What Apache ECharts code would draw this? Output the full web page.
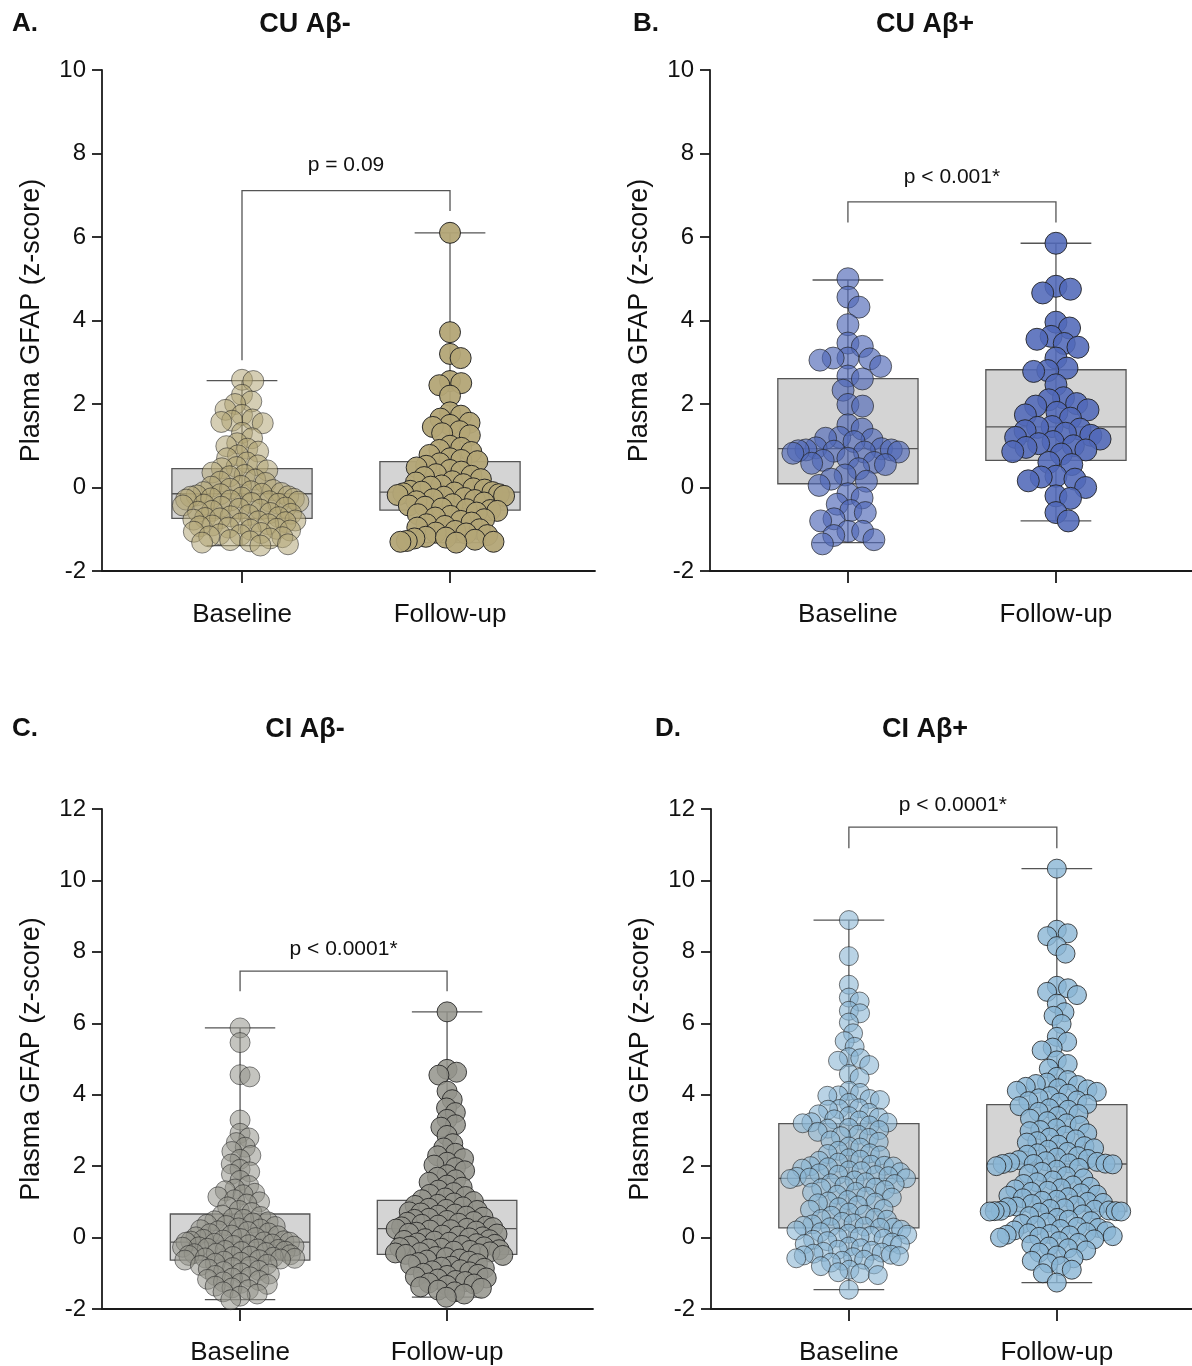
<!DOCTYPE html>
<html>
<head>
<meta charset="utf-8">
<title>Plasma GFAP</title>
<script src="https://cdn.jsdelivr.net/npm/echarts@6/dist/echarts.min.js"></script>
<style>
  html, body { margin: 0; padding: 0; background: #fff; }
  #chart { width: 1192px; height: 1366px; }
</style>
</head>
<body>
<div id="chart"></div>
<script>
// categories / labels
const categories = ['Baseline', 'Follow-up'];
const panelTitles = ['CU Aβ-', 'CU Aβ+', 'CI Aβ-', 'CI Aβ+'];
const panelLetters = ['A.', 'B.', 'C.', 'D.'];
const pTexts = ['p = 0.09', 'p < 0.001*', 'p < 0.0001*', 'p < 0.0001*'];

// box stats: [min, q1, median, q3, max]
const aBaseBox = [-1.39, -0.74, -0.15, 0.45, 2.56];
const aFollowBox = [-1.32, -0.54, -0.11, 0.62, 6.1];
const bBaseBox = [-1.32, 0.09, 0.93, 2.61, 4.97];
const bFollowBox = [-0.8, 0.65, 1.45, 2.82, 5.85];
const cBaseBox = [-1.74, -0.63, -0.13, 0.66, 5.87];
const cFollowBox = [-1.67, -0.47, 0.25, 1.04, 6.32];
const dBaseBox = [-1.46, 0.27, 1.66, 3.19, 8.89];
const dFollowBox = [-1.26, 0.73, 2.06, 3.72, 10.33];

// significance brackets: [left leg end, top, right leg end, label y]
const aBracket = [3.05, 7.11, 6.62, 7.71];
const bBracket = [6.35, 6.84, 6.35, 7.43];
const cBracket = [6.9, 7.46, 6.9, 8.08];
const dBracket = [10.9, 11.49, 10.9, 12.1];

// individual z-scores
const aBase = [2.58, 2.55, 2.22, 2.06, 2.0, 1.86, 1.74, 1.63, 1.6, 1.57, 1.54, 1.31, 1.18, 1.06, 0.99, 0.93, 0.86, 0.77, 0.7, 0.6, 0.53, 0.49, 0.46,
  0.41, 0.36, 0.3, 0.27, 0.19, 0.14, 0.11, 0.04, 0.02, -0.03, -0.06, -0.09, -0.11, -0.13, -0.15, -0.16, -0.19, -0.21, -0.22, -0.24, -0.26, -0.27,
  -0.29, -0.31, -0.33, -0.34, -0.37, -0.39, -0.41, -0.43, -0.46, -0.48, -0.51, -0.53, -0.56, -0.58, -0.61, -0.63, -0.66, -0.69, -0.71, -0.73, -0.74,
  -0.77, -0.79, -0.81, -0.83, -0.86, -0.88, -0.91, -0.93, -0.96, -0.99, -1.01, -1.03, -1.06, -1.09, -1.12, -1.14, -1.17, -1.19, -1.22, -1.26,
  -1.29, -1.32, -1.36, -1.39];
const aFollow = [6.1, 3.72, 3.2, 3.1, 2.55, 2.5, 2.45, 2.2, 1.8, 1.72, 1.65, 1.55, 1.5, 1.45, 1.35, 1.3, 1.25, 1.0, 0.95, 0.9, 0.85, 0.78, 0.7, 0.66, 0.63,
  0.58, 0.52, 0.48, 0.42, 0.38, 0.32, 0.28, 0.25, 0.2, 0.15, 0.12, 0.08, 0.05, 0.02, -0.02, -0.05, -0.08, -0.1, -0.11, -0.12, -0.14, -0.16, -0.18, -0.2, -0.22,
  -0.25, -0.28, -0.3, -0.33, -0.36, -0.4, -0.43, -0.46, -0.5, -0.52, -0.54, -0.56, -0.6, -0.64, -0.68, -0.72, -0.76, -0.8, -0.84, -0.88, -0.92, -0.96,
  -1.0, -1.04, -1.08, -1.1, -1.14, -1.18, -1.2, -1.22, -1.25, -1.28, -1.3, -1.3, -1.32];
const bBase = [5.0, 4.56, 4.32, 3.9, 3.46, 3.38, 3.1, 3.1, 3.08, 3.05, 2.9, 2.67, 2.6, 2.33, 1.99, 1.95, 1.5, 1.4, 1.2, 1.18, 1.15, 1.1, 0.95, 0.93,
  0.9, 0.9, 0.88, 0.87, 0.85, 0.85, 0.82, 0.7, 0.65, 0.6, 0.58, 0.55, 0.45, 0.3, 0.2, 0.15, 0.05, -0.15, -0.25, -0.4, -0.55, -0.6, -0.75, -0.8,
  -1.05, -1.05, -1.15, -1.25, -1.35];
const bFollow = [5.85, 4.82, 4.75, 4.66, 3.96, 3.82, 3.62, 3.55, 3.45, 3.36, 3.1, 2.86, 2.8, 2.78, 2.46, 2.15, 2.1, 2.01, 1.95, 1.86, 1.8, 1.74, 1.66,
  1.46, 1.44, 1.4, 1.36, 1.3, 1.25, 1.2, 1.16, 1.1, 1.05, 1.0, 0.96, 0.9, 0.86, 0.8, 0.6, 0.55, 0.27, 0.25, 0.2, 0.16, 0.0, -0.2, -0.26, -0.6, -0.8];
const cBase = [5.87, 5.46, 4.56, 4.5, 3.29, 2.92, 2.79, 2.66, 2.53, 2.41, 2.3, 2.19, 2.06, 1.91, 1.84, 1.77, 1.6, 1.46, 1.36, 1.31, 1.24, 1.2, 1.14,
  1.06, 1.0, 0.94, 0.86, 0.76, 0.7, 0.63, 0.59, 0.54, 0.51, 0.47, 0.44, 0.41, 0.37, 0.34, 0.31, 0.27, 0.24, 0.22, 0.19, 0.17, 0.13, 0.11, 0.07,
  0.05, 0.02, 0.0, -0.03, -0.05, -0.07, -0.09, -0.1, -0.12, -0.13, -0.13, -0.16, -0.18, -0.2, -0.22, -0.24, -0.26, -0.27, -0.3, -0.32, -0.33,
  -0.36, -0.38, -0.39, -0.42, -0.44, -0.45, -0.48, -0.5, -0.52, -0.53, -0.55, -0.57, -0.58, -0.6, -0.62, -0.63, -0.66, -0.69, -0.72, -0.75,
  -0.78, -0.81, -0.84, -0.88, -0.92, -0.95, -0.99, -1.02, -1.06, -1.1, -1.13, -1.17, -1.2, -1.24, -1.28, -1.31, -1.36, -1.41, -1.46, -1.52,
  -1.58, -1.64, -1.74];
const cFollow = [6.32, 4.71, 4.63, 4.55, 4.1, 3.86, 3.63, 3.5, 3.31, 3.16, 3.09, 2.86, 2.63, 2.51, 2.36, 2.29, 2.21, 2.11, 2.03, 1.96, 1.87, 1.76,
  1.69, 1.62, 1.55, 1.47, 1.41, 1.33, 1.26, 1.21, 1.15, 1.11, 1.06, 1.01, 0.97, 0.93, 0.9, 0.86, 0.82, 0.79, 0.76, 0.72, 0.69, 0.66, 0.63, 0.6,
  0.57, 0.54, 0.51, 0.48, 0.45, 0.43, 0.4, 0.37, 0.35, 0.32, 0.3, 0.28, 0.26, 0.24, 0.22, 0.21, 0.18, 0.15, 0.12, 0.1, 0.07, 0.04, 0.02, -0.01,
  -0.03, -0.06, -0.08, -0.1, -0.13, -0.15, -0.17, -0.19, -0.22, -0.24, -0.26, -0.28, -0.3, -0.32, -0.34, -0.36, -0.38, -0.4, -0.42, -0.43,
  -0.45, -0.47, -0.5, -0.53, -0.56, -0.6, -0.63, -0.66, -0.7, -0.73, -0.76, -0.8, -0.83, -0.86, -0.9, -0.93, -0.96, -1.0, -1.03, -1.06, -1.1,
  -1.13, -1.16, -1.2, -1.23, -1.27, -1.3, -1.34, -1.38, -1.42, -1.47, -1.52, -1.58, -1.67];
const dBase = [8.89, 7.88, 7.08, 6.72, 6.61, 6.35, 6.28, 6.02, 5.72, 5.5, 5.34, 5.05, 5.02, 4.95, 4.83, 4.58, 4.47, 4.11, 4.05, 3.98, 3.97, 3.88,
  3.85, 3.77, 3.62, 3.6, 3.58, 3.49, 3.45, 3.4, 3.36, 3.31, 3.28, 3.23, 3.22, 3.2,
  3.14, 3.07, 3.05, 3.01, 2.96, 2.88, 2.84, 2.79, 2.72, 2.68, 2.55, 2.52, 2.43, 2.36, 2.34, 2.3, 2.22, 2.18, 2.15, 2.1, 2.04, 2.01, 2.0, 1.99,
  1.97, 1.93, 1.88, 1.86, 1.83, 1.8, 1.76, 1.75, 1.72, 1.7, 1.68, 1.66,
  1.64, 1.6, 1.55, 1.52, 1.5, 1.45, 1.4, 1.38, 1.33, 1.28, 1.26, 1.2, 1.15, 1.12, 1.05, 1.01, 0.98, 0.96, 0.9, 0.85, 0.8, 0.78, 0.7, 0.64, 0.61,
  0.55, 0.52, 0.5, 0.44, 0.4, 0.37, 0.33, 0.31, 0.29, 0.28, 0.27,
  0.22, 0.2, 0.15, 0.11, 0.08, 0.05, 0.02, 0.0, -0.03, -0.06, -0.1, -0.14, -0.18, -0.2, -0.25, -0.3, -0.34, -0.37, -0.4, -0.42, -0.45, -0.48,
  -0.5, -0.52, -0.55, -0.58, -0.62, -0.65, -0.7, -0.75, -0.8, -0.9, -0.97, -1.0, -1.05, -1.46];
const dFollow = [10.33, 8.62, 8.52, 8.44, 8.16, 7.95, 7.05, 6.98, 6.88, 6.79, 6.55, 6.31, 6.21, 5.98, 5.62, 5.48, 5.32, 5.24, 4.96, 4.86, 4.73,
  4.5, 4.41, 4.34, 4.3, 4.27, 4.22, 4.18, 4.15, 4.11, 4.08, 4.03, 3.96, 3.9, 3.84, 3.82, 3.78, 3.74,
  3.68, 3.62, 3.58, 3.52, 3.46, 3.4, 3.33, 3.26, 3.2, 3.14, 3.06, 3.01, 2.98, 2.92, 2.86, 2.8, 2.75, 2.7, 2.66, 2.6, 2.56, 2.5, 2.46, 2.4, 2.36,
  2.32, 2.28, 2.24, 2.2, 2.17, 2.14, 2.12, 2.1, 2.08, 2.07, 2.06, 2.06, 2.05,
  2.0, 1.95, 1.9, 1.84, 1.78, 1.72, 1.66, 1.6, 1.55, 1.5, 1.46, 1.42, 1.38, 1.35, 1.31, 1.28, 1.24, 1.2, 1.17, 1.13, 1.1, 1.06, 1.03, 1.0, 0.97,
  0.94, 0.9, 0.87, 0.85, 0.82, 0.8, 0.78, 0.76, 0.75, 0.74, 0.74, 0.73, 0.73,
  0.7, 0.65, 0.6, 0.55, 0.5, 0.46, 0.42, 0.38, 0.34, 0.3, 0.27, 0.24, 0.2, 0.18, 0.15, 0.12, 0.1, 0.08, 0.06, 0.04, 0.02, 0.0, -0.05, -0.1,
  -0.15, -0.2, -0.25, -0.3, -0.36, -0.42, -0.5, -0.58, -0.65, -0.72, -0.8, -0.9, -1.0, -1.26];

const FONT = 'Liberation Sans, Arial, Helvetica, sans-serif';

// layout for the four panels
const panels = [
  { grid: { left: 102, top: 70, width: 493, height: 501 }, xMin: 0.327, xMax: 2.697, yMin: -2, yMax: 10,
    base: aBase, follow: aFollow, baseBox: aBaseBox, followBox: aFollowBox, bracket: aBracket,
    color: '#b3a576', alpha: [0.55, 0.95], size: 21, gap: 11.5, spread: 70 },
  { grid: { left: 710, top: 70, width: 482, height: 501 }, xMin: 0.337, xMax: 2.654, yMin: -2, yMax: 10,
    base: bBase, follow: bFollow, baseBox: bBaseBox, followBox: bFollowBox, bracket: bBracket,
    color: '#5169b8', alpha: [0.66, 0.88], size: 22, gap: 15, spread: 66 },
  { grid: { left: 102, top: 809, width: 491, height: 500 }, xMin: 0.333, xMax: 2.705, yMin: -2, yMax: 12,
    base: cBase, follow: cFollow, baseBox: cBaseBox, followBox: cFollowBox, bracket: cBracket,
    color: '#93938b', alpha: [0.55, 0.85], size: 20, gap: 10, spread: 72 },
  { grid: { left: 711, top: 809, width: 481, height: 500 }, xMin: 0.337, xMax: 2.65, yMin: -2, yMax: 12,
    base: dBase, follow: dFollow, baseBox: dBaseBox, followBox: dFollowBox, bracket: dBracket,
    color: '#8ab5d4', alpha: [0.6, 0.8], size: 19, gap: 11.5, spread: 86 }
];
const titlePos = [[300, 6, 7], [920, 6, 628], [300, 711, 7], [920, 711, 650]];

// beeswarm: horizontal offsets (px) so points keep a minimum distance,
// then softly squeezed so the swarm stays about as wide as the box
function swarmOffsets(vals, pxPerY, dist, spread) {
  const placed = [];
  const offs = new Array(vals.length);
  const order = vals.map((v, i) => i).sort((a, b) => vals[b] - vals[a]);
  order.forEach(i => {
    const y = vals[i] * pxPerY;
    const near = placed.filter(p => Math.abs(p.y - y) < dist);
    const cands = [0];
    near.forEach(p => {
      const dx = Math.sqrt(dist * dist - (p.y - y) * (p.y - y));
      cands.push(p.x + dx, p.x - dx);
    });
    cands.sort((a, b) => Math.abs(a) - Math.abs(b));
    let x = 0;
    for (const c of cands) {
      if (near.every(p => (p.x - c) * (p.x - c) + (p.y - y) * (p.y - y) >= dist * dist - 0.01)) { x = c; break; }
    }
    placed.push({ x: x, y: y });
    offs[i] = x;
  });
  return offs.map(x => spread * Math.tanh(x / spread));
}

const BOX_HW = 0.337, CAP_HW = 0.17;

function renderBox(params, api) {
  const x = api.value(0);
  const pMin = api.coord([x, api.value(1)]);
  const pQ1 = api.coord([x, api.value(2)]);
  const pMed = api.coord([x, api.value(3)]);
  const pQ3 = api.coord([x, api.value(4)]);
  const pMax = api.coord([x, api.value(5)]);
  const hw = api.size([BOX_HW, 0])[0];
  const cw = api.size([CAP_HW, 0])[0];
  const ls = { stroke: '#555', lineWidth: 1.3 };
  return {
    type: 'group',
    children: [
      { type: 'rect', shape: { x: pQ1[0] - hw, y: pQ3[1], width: 2 * hw, height: pQ1[1] - pQ3[1] },
        style: { fill: '#d4d4d4', stroke: '#555', lineWidth: 1.3 } },
      { type: 'line', shape: { x1: pMax[0], y1: pMax[1], x2: pMin[0], y2: pMin[1] }, style: ls },
      { type: 'line', shape: { x1: pMax[0] - cw, y1: pMax[1], x2: pMax[0] + cw, y2: pMax[1] }, style: ls },
      { type: 'line', shape: { x1: pMin[0] - cw, y1: pMin[1], x2: pMin[0] + cw, y2: pMin[1] }, style: ls },
      { type: 'line', shape: { x1: pMed[0] - hw, y1: pMed[1], x2: pMed[0] + hw, y2: pMed[1] }, style: ls }
    ]
  };
}

function makeBracketRenderer(text) {
  return function (params, api) {
    const p0 = api.coord([1, api.value(0)]);
    const p1 = api.coord([1, api.value(1)]);
    const p2 = api.coord([2, api.value(1)]);
    const p3 = api.coord([2, api.value(2)]);
    const pl = api.coord([1.5, api.value(3)]);
    return {
      type: 'group',
      children: [
        { type: 'polyline', shape: { points: [p0, p1, p2, p3] }, style: { stroke: '#555', lineWidth: 1.3, fill: null } },
        { type: 'text', x: pl[0], y: pl[1],
          style: { text: text, fill: '#111', font: '21px ' + FONT, align: 'center', verticalAlign: 'middle' } }
      ]
    };
  };
}

const grids = [], xAxes = [], yAxes = [], series = [], titles = [];

panels.forEach((p, k) => {
  grids.push(Object.assign({ containLabel: false }, p.grid));
  xAxes.push({
    type: 'value', gridIndex: k, min: p.xMin, max: p.xMax,
    axisLine: { show: true, onZero: false, lineStyle: { color: '#1a1a1a', width: 1.8 } },
    axisTick: { show: true, customValues: [1, 2], length: 12, lineStyle: { color: '#1a1a1a', width: 1.8 } },
    axisLabel: { show: true, customValues: [1, 2], margin: 31, fontSize: 26, color: '#111', fontFamily: FONT,
      formatter: v => categories[Math.round(v) - 1] },
    splitLine: { show: false }
  });
  yAxes.push({
    type: 'value', gridIndex: k, min: p.yMin, max: p.yMax, interval: 2,
    name: 'Plasma GFAP (z-score)', nameLocation: 'middle', nameGap: 57, nameRotate: 90,
    nameTextStyle: { fontSize: 27, color: '#111', fontFamily: FONT },
    axisLine: { show: true, onZero: false, lineStyle: { color: '#1a1a1a', width: 1.8 } },
    axisTick: { show: true, length: 10, lineStyle: { color: '#1a1a1a', width: 1.8 } },
    axisLabel: { fontSize: 24, color: '#111', margin: 16, fontFamily: FONT },
    splitLine: { show: false }
  });

  const pxPerX = p.grid.width / (p.xMax - p.xMin);
  const pxPerY = p.grid.height / (p.yMax - p.yMin);

  series.push({
    type: 'custom', xAxisIndex: k, yAxisIndex: k, z: 1, silent: true,
    renderItem: renderBox,
    data: [[1].concat(p.baseBox), [2].concat(p.followBox)]
  });

  [p.base, p.follow].forEach((vals, g) => {
    const offs = swarmOffsets(vals, pxPerY, p.gap, p.spread);
    series.push({
      type: 'scatter', name: categories[g], xAxisIndex: k, yAxisIndex: k, z: 2 + g, silent: true,
      symbolSize: p.size,
      itemStyle: { color: p.color, opacity: p.alpha[g], borderColor: '#222', borderWidth: 1 },
      data: vals.map((v, i) => [g + 1 + offs[i] / pxPerX, v])
    });
  });

  series.push({
    type: 'custom', xAxisIndex: k, yAxisIndex: k, z: 5, silent: true, clip: false,
    renderItem: makeBracketRenderer(pTexts[k]),
    data: [p.bracket]
  });

  titles.push({
    text: panelTitles[k], left: titlePos[k][0], top: titlePos[k][1], textAlign: 'center',
    textStyle: { fontSize: 27, fontWeight: 'bold', color: '#111', fontFamily: FONT }
  });
  titles.push({
    text: panelLetters[k], left: titlePos[k][2], top: titlePos[k][1],
    textStyle: { fontSize: 26, fontWeight: 'bold', color: '#111', fontFamily: FONT }
  });
});

const chart = echarts.init(document.getElementById('chart'), null, { renderer: 'canvas' });
chart.setOption({
  animation: false,
  backgroundColor: '#fff',
  textStyle: { fontFamily: FONT },
  title: titles,
  grid: grids,
  xAxis: xAxes,
  yAxis: yAxes,
  series: series
});
</script>
</body>
</html>
